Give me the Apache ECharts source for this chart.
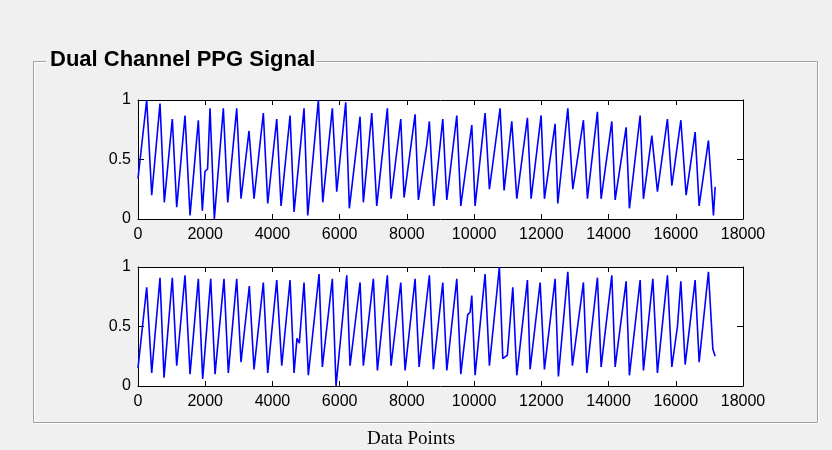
<!DOCTYPE html>
<html>
<head>
<meta charset="utf-8">
<script src="https://cdn.jsdelivr.net/npm/echarts@6/dist/echarts.min.js"></script>
<style>
  html, body { margin: 0; padding: 0; background: #f0f0f0; }
  #container { width: 832px; height: 450px; }
</style>
</head>
<body>
<div id="container"></div>
<script>
// channel 1 : [data point, amplitude]
var ch1Points = [
  [0,0.34],[259,1.0],[408,0.2],[655,0.97],[783,0.14],[1021,0.84],[1152,0.10],[1399,0.87],
  [1548,0.03],[1795,0.83],[1914,0.07],[1994,0.40],[2070,0.42],[2143,0.93],[2271,0.0],
  [2539,0.93],[2670,0.14],[2937,0.93],[3065,0.17],[3303,0.74],[3452,0.17],[3729,0.89],
  [3860,0.13],[4128,0.84],[4256,0.11],[4524,0.87],[4643,0.06],[4940,0.93],[5050,0.03],
  [5366,1.0],[5497,0.14],[5782,0.93],[5913,0.23],[6181,0.98],[6288,0.09],[6607,0.86],
  [6705,0.14],[6955,0.89],[7104,0.11],[7419,0.93],[7529,0.17],[7818,0.84],[7916,0.18],
  [8244,0.88],[8342,0.16],[8590,0.62],[8669,0.82],[8800,0.11],[9068,0.84],[9187,0.16],
  [9485,0.87],[9604,0.11],[9931,0.79],[10029,0.11],[10327,0.89],[10455,0.25],[10773,0.93],
  [10892,0.24],[11121,0.82],[11270,0.17],[11586,0.85],[11696,0.17],[11993,0.87],[12092,0.17],
  [12410,0.80],[12490,0.13],[12788,0.93],[12937,0.25],[13252,0.83],[13371,0.17],[13669,0.90],
  [13779,0.17],[14097,0.82],[14196,0.16],[14523,0.77],[14621,0.09],[14940,0.87],[15038,0.17],
  [15288,0.70],[15454,0.23],[15752,0.84],[15883,0.28],[16151,0.83],[16308,0.20],[16576,0.73],
  [16695,0.11],[16972,0.66],[17121,0.03],[17171,0.27]
];

// channel 2 : bottom trace
var ch2Points = [
  [0,0.15],[259,0.83],[408,0.11],[655,0.91],[774,0.07],[1021,0.91],[1152,0.17],[1399,0.93],
  [1548,0.10],[1795,0.90],[1925,0.06],[2164,0.90],[2292,0.10],[2559,0.90],[2687,0.11],
  [2937,0.90],[3065,0.20],[3312,0.84],[3452,0.14],[3729,0.87],[3860,0.11],[4128,0.89],
  [4277,0.17],[4524,0.89],[4643,0.11],[4730,0.40],[4800,0.36],[4940,0.87],[5068,0.09],
  [5387,0.94],[5485,0.16],[5782,0.90],[5892,0.0],[6211,0.93],[6309,0.17],[6607,0.87],
  [6705,0.17],[7003,0.90],[7122,0.13],[7419,0.93],[7529,0.17],[7818,0.87],[7946,0.13],
  [8244,0.90],[8363,0.16],[8669,0.93],[8788,0.14],[9068,0.87],[9187,0.13],[9485,0.90],
  [9604,0.10],[9810,0.60],[9880,0.62],[9931,0.76],[10029,0.09],[10327,0.94],[10455,0.17],
  [10752,1.0],[10853,0.23],[10990,0.26],[11151,0.83],[11270,0.09],[11586,0.89],[11666,0.14],
  [11964,0.87],[12092,0.14],[12410,0.90],[12508,0.08],[12788,0.96],[12925,0.17],[13252,0.87],
  [13353,0.11],[13669,0.91],[13779,0.16],[14097,0.93],[14196,0.16],[14523,0.88],[14621,0.09],
  [14940,0.89],[15038,0.13],[15318,0.90],[15454,0.11],[15752,0.93],[15883,0.16],[16050,0.50],
  [16151,0.88],[16279,0.18],[16576,0.89],[16695,0.20],[16972,0.96],[17103,0.31],[17171,0.25]
];

var xMin = 0, xMax = 18000, xStep = 2000;
var yMin = 0, yMax = 1, yStep = 0.5;

var dom = document.getElementById("container");
var myChart = echarts.init(dom, null, { renderer: 'canvas' });

function xAxisOf(grid, pos) {
    return {
        gridIndex: grid,
        type: 'value',
        position: pos,
        min: xMin, max: xMax, interval: xStep,
        axisLine: { show: true, onZero: false, lineStyle: { color: '#000', width: 1 } },
        axisTick: { show: true, inside: true, length: 5, lineStyle: { color: '#000' } },
        axisLabel: {
            show: pos === 'bottom', color: '#000', fontSize: 16,
            fontFamily: 'Liberation Sans, Arial', margin: 8,
            formatter: function (v) { return String(v); }
        },
        splitLine: { show: false }
    };
}
function yAxisOf(grid, pos) {
    return {
        gridIndex: grid,
        type: 'value',
        position: pos,
        min: yMin, max: yMax, interval: yStep,
        axisLine: { show: true, onZero: false, lineStyle: { color: '#000', width: 1 } },
        axisTick: { show: true, inside: true, length: 6, lineStyle: { color: '#000' } },
        axisLabel: {
            show: pos === 'left', color: '#000', fontSize: 16,
            fontFamily: 'Liberation Sans, Arial', margin: 7
        },
        splitLine: { show: false }
    };
}

var option = {
    backgroundColor: '#f0f0f0',
    animation: false,
    grid: [
        { left: 138, top: 100, width: 605, height: 119, show: true, backgroundColor: '#fff', borderWidth: 0 },
        { left: 138, top: 267, width: 605, height: 119, show: true, backgroundColor: '#fff', borderWidth: 0 }
    ],
    xAxis: [xAxisOf(0, 'bottom'), xAxisOf(0, 'top'), xAxisOf(1, 'bottom'), xAxisOf(1, 'top')],
    yAxis: [yAxisOf(0, 'left'), yAxisOf(0, 'right'), yAxisOf(1, 'left'), yAxisOf(1, 'right')],
    graphic: [
        // panel border (etched)
        { type: 'rect', shape: { x: 33.5, y: 61.5, width: 784, height: 361 },
          style: { fill: 'none', stroke: '#a0a0a0', lineWidth: 1 }, z: 1 },
        { type: 'rect', shape: { x: 34.5, y: 62.5, width: 784, height: 361 },
          style: { fill: 'none', stroke: '#ffffff', lineWidth: 1 }, z: 0 },
        { type: 'rect', shape: { x: 46, y: 50, width: 270, height: 20 },
          style: { fill: '#f0f0f0' }, z: 2 },
        { type: 'text', x: 50, y: 60, z: 3,
          style: { text: 'Dual Channel PPG Signal', fill: '#000',
                   font: 'bold 22px "Liberation Sans", Arial', textVerticalAlign: 'middle' } },
        { type: 'text', x: 411, y: 439, z: 3,
          style: { text: 'Data Points', fill: '#000', textAlign: 'center', textVerticalAlign: 'middle',
                   font: '19px "Liberation Serif", "Times New Roman", serif' } }
    ],
    series: [
        { name: 'Channel 1', type: 'line', xAxisIndex: 0, yAxisIndex: 0, data: ch1Points,
          showSymbol: false, lineStyle: { color: '#0000ff', width: 1.6 }, z: 5 },
        { name: 'Channel 2', type: 'line', xAxisIndex: 2, yAxisIndex: 2, data: ch2Points,
          showSymbol: false, lineStyle: { color: '#0000ff', width: 1.6 }, z: 5 }
    ]
};
myChart.setOption(option, true);
</script>
</body>
</html>
